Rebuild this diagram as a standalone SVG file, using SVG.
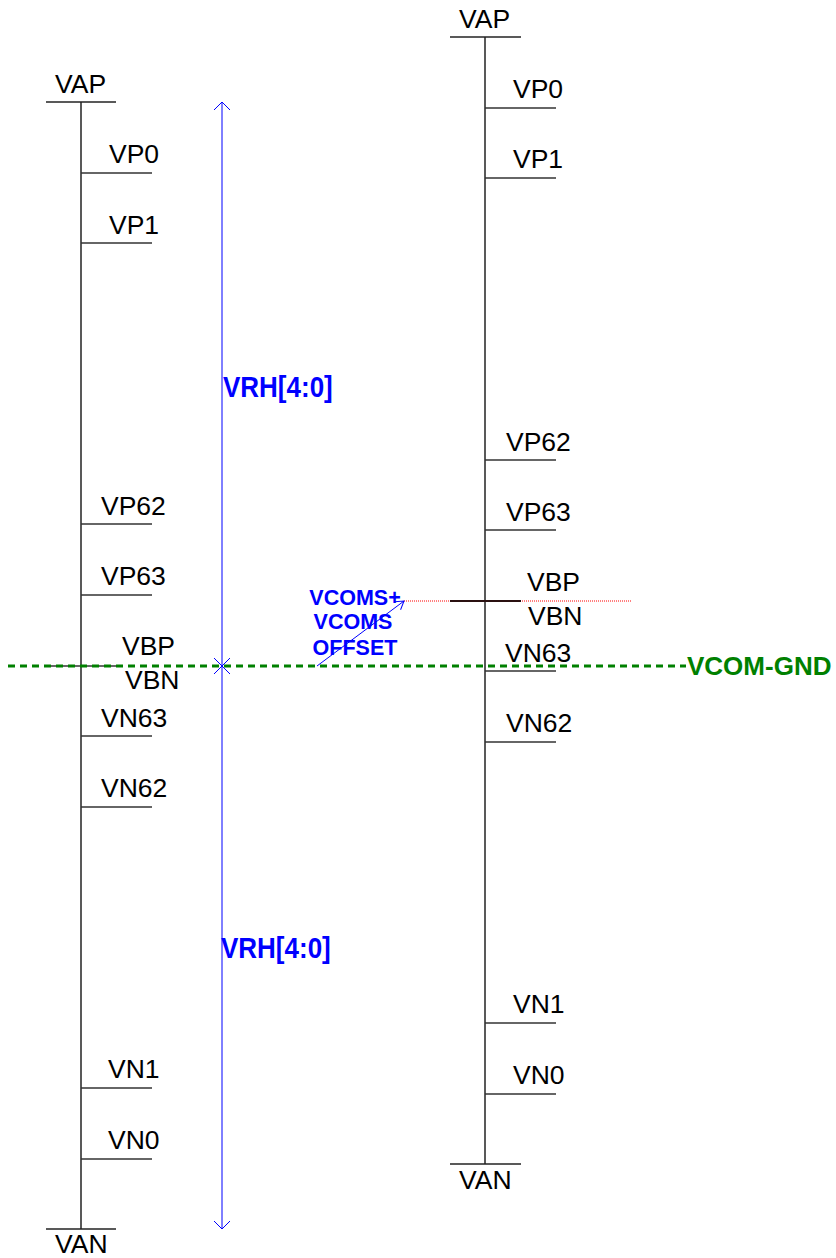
<svg xmlns="http://www.w3.org/2000/svg" width="836" height="1258" viewBox="0 0 836 1258">
<defs>
<style>
.t{font-family:"Liberation Sans",Arial,sans-serif;font-size:26.5px;fill:#000}
.b{font-family:"Liberation Sans",Arial,sans-serif;font-weight:bold;fill:#0000ff}
.g{font-family:"Liberation Sans",Arial,sans-serif;font-weight:bold;font-size:26px;fill:#008000}
.ln{stroke:#222;stroke-width:1.5;fill:none}
.tk{stroke:#333;stroke-width:1.5;fill:none}
.bl{stroke:#0000ff;stroke-width:1;fill:none}
</style>
<marker id="ah2" viewBox="0 0 12 12" refX="11" refY="6" markerWidth="12" markerHeight="12" markerUnits="userSpaceOnUse" orient="auto">
<path d="M3 1 L11 6 L3 11" fill="none" stroke="#0000ff" stroke-width="1"/>
</marker>
</defs>

<g id="left-ladder">
<line class="ln" x1="81" y1="102" x2="81" y2="1229"/>
<line class="ln" x1="46" y1="102" x2="116" y2="102"/>
<line class="ln" x1="46" y1="1229" x2="116" y2="1229"/>
<line class="tk" x1="81" y1="173" x2="152" y2="173"/>
<line class="tk" x1="81" y1="243" x2="152" y2="243"/>
<line class="tk" x1="81" y1="524" x2="152" y2="524"/>
<line class="tk" x1="81" y1="595" x2="152" y2="595"/>
<line class="tk" x1="46" y1="666" x2="116" y2="666"/>
<line class="tk" x1="81" y1="736" x2="152" y2="736"/>
<line class="tk" x1="81" y1="807" x2="152" y2="807"/>
<line class="tk" x1="81" y1="1088" x2="152" y2="1088"/>
<line class="tk" x1="81" y1="1159" x2="152" y2="1159"/>
<text class="t" x="55" y="93">VAP</text>
<text class="t" x="109" y="163">VP0</text>
<text class="t" x="109" y="234">VP1</text>
<text class="t" x="101" y="515">VP62</text>
<text class="t" x="101" y="585">VP63</text>
<text class="t" x="122" y="655">VBP</text>
<text class="t" x="125" y="689">VBN</text>
<text class="t" x="101" y="727">VN63</text>
<text class="t" x="101" y="797">VN62</text>
<text class="t" x="108" y="1078">VN1</text>
<text class="t" x="108" y="1149">VN0</text>
<text class="t" x="55" y="1253">VAN</text>
</g>

<g id="right-ladder">
<line class="ln" x1="485" y1="37" x2="485" y2="1164"/>
<line class="ln" x1="450" y1="37" x2="521" y2="37"/>
<line class="ln" x1="450" y1="1164" x2="521" y2="1164"/>
<line class="tk" x1="485" y1="108" x2="556" y2="108"/>
<line class="tk" x1="485" y1="178" x2="556" y2="178"/>
<line class="tk" x1="485" y1="460" x2="556" y2="460"/>
<line class="tk" x1="485" y1="530" x2="556" y2="530"/>
<line class="tk" x1="485" y1="671" x2="556" y2="671"/>
<line class="tk" x1="485" y1="742" x2="556" y2="742"/>
<line class="tk" x1="485" y1="1023" x2="556" y2="1023"/>
<line class="tk" x1="485" y1="1094" x2="556" y2="1094"/>
<text class="t" x="459" y="28">VAP</text>
<text class="t" x="513" y="98">VP0</text>
<text class="t" x="513" y="168">VP1</text>
<text class="t" x="506" y="451">VP62</text>
<text class="t" x="506" y="521">VP63</text>
<text class="t" x="527" y="591">VBP</text>
<text class="t" x="528" y="625">VBN</text>
<text class="t" x="505" y="662">VN63</text>
<text class="t" x="506" y="732">VN62</text>
<text class="t" x="513" y="1013">VN1</text>
<text class="t" x="513" y="1084">VN0</text>
<text class="t" x="459" y="1189">VAN</text>
</g>

<g id="connectors">
<line x1="404" y1="601" x2="631" y2="601" stroke="#ff0000" stroke-width="1" stroke-dasharray="1 1"/>
<line x1="450" y1="601" x2="521" y2="601" stroke="#2a1010" stroke-width="2"/>
<line x1="8" y1="666" x2="686" y2="666" stroke="#008000" stroke-width="3" stroke-dasharray="7 5"/>
<line class="bl" x1="222" y1="102" x2="222" y2="1229"/>
<path class="bl" d="M214 110 L222 102 L230 110 M214 1221 L222 1229 L230 1221"/>
<path class="bl" d="M214 658 L230 674 M230 658 L214 674"/>
<line class="bl" x1="317" y1="666" x2="404" y2="601" marker-end="url(#ah2)"/>
</g>

<g id="vrh-labels">
<text class="b" font-size="26" transform="translate(223,397) scale(1,1.12)">VRH[4:0]</text>
<text class="b" font-size="26" transform="translate(221,958) scale(1,1.12)">VRH[4:0]</text>
</g>

<g id="vcoms-label">
<text class="b" font-size="21.5" text-anchor="middle" x="355" y="605">VCOMS+</text>
<text class="b" font-size="21.5" text-anchor="middle" x="353" y="629">VCOMS</text>
<text class="b" font-size="21.5" text-anchor="middle" x="355" y="655">OFFSET</text>
</g>

<g id="vcom-gnd">
<text class="g" x="687" y="675">VCOM-GND</text>
</g>
</svg>
